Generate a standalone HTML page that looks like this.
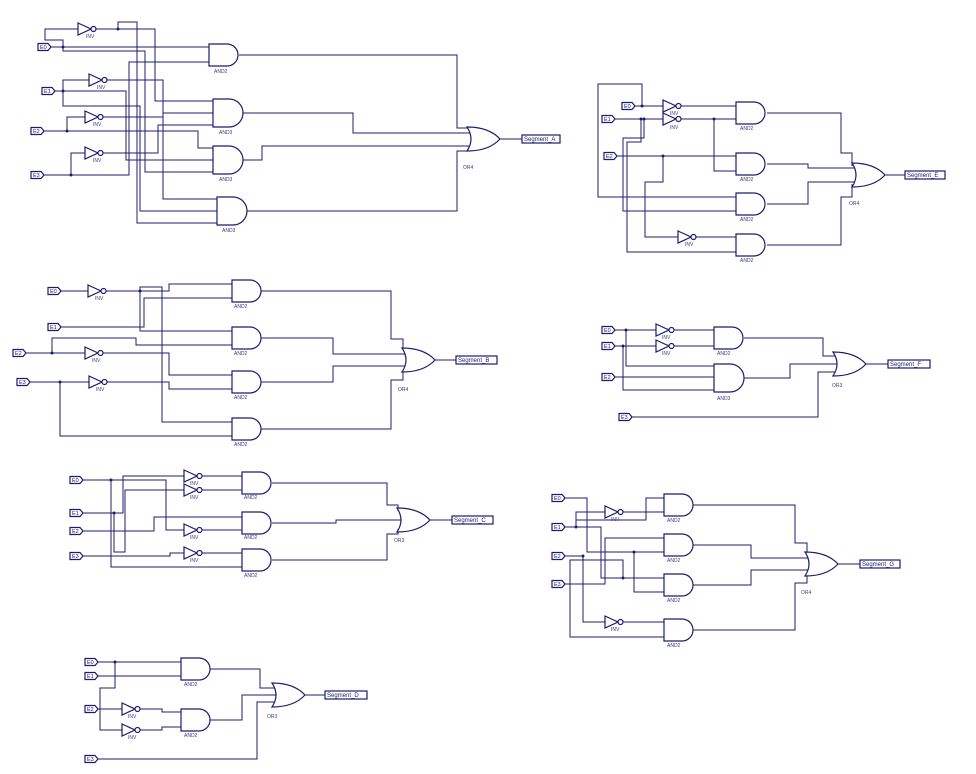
<!DOCTYPE html>
<html><head><meta charset="utf-8"><style>
html,body{margin:0;padding:0;background:#fff;}
svg{display:block;}
.w{fill:none;stroke:#1c1c6e;stroke-width:1;}
.g{fill:#fff;stroke:#1c1c6e;stroke-width:1.2;}
text{font-family:"Liberation Sans",sans-serif;font-size:5px;fill:#3a3a80;}
.p{font-size:5.5px;fill:#1c1c6e;}
.o{font-size:6px;fill:#1c1c6e;}
.d{fill:#1c1c6e;}
</style></head><body>
<svg width="976" height="774" viewBox="0 0 976 774" xmlns="http://www.w3.org/2000/svg">
<defs>
<path id="and2" class="g" d="M0,0 H18 A11,11 0 0 1 18,22 H0 Z"/>
<path id="and3" class="g" d="M0,0 H16 A14,14 0 0 1 16,28 H0 Z"/>
<path id="or" class="g" d="M0,0 Q8,12 0,24 Q22,24 33,12 Q22,0 0,0 Z"/>
<g id="inv"><path class="g" d="M0,-6 L13,0 L0,6 Z"/><circle class="g" cx="15.5" cy="0" r="2.5"/></g>
<path id="port" class="g" d="M0,-3.5 H10 L13,0 L10,3.5 H0 Z"/>
</defs>

<!-- ===== Segment_A ===== -->
<g class="w">
<polyline points="51,47 209,47"/>
<polyline points="63,47 63,40 45,40 45,29 78,29"/>
<polyline points="63,47 63,51 145,51 145,172 213,172"/>
<polyline points="96,29 155,29 155,101 213,101"/>
<polyline points="118,29 118,22 137,22 137,223 217,223"/>
<polyline points="55,91 126,91 126,160 213,160"/>
<polyline points="63,91 63,80 89,80"/>
<polyline points="63,91 63,106 140,106 140,211 217,211"/>
<polyline points="107,80 163,80 163,113 213,113"/>
<polyline points="163,113 163,199 217,199"/>
<polyline points="44,131 198,131 198,148 213,148"/>
<polyline points="67,131 67,117 85,117"/>
<polyline points="103,117 163,117"/>
<polyline points="44,175 129,175 129,62 209,62"/>
<polyline points="71,175 71,153 85,153"/>
<polyline points="103,153 158,153 158,125 213,125"/>
<polyline points="239,55 457,55 457,128 470,128"/>
<polyline points="242,113 353,113 353,133 473,133"/>
<polyline points="242,160 262,160 262,146 473,146"/>
<polyline points="246,211 457,211 457,151 470,151"/>
<polyline points="500,139 522,139"/>
</g>
<circle class="d" cx="63" cy="47" r="1.5"/><circle class="d" cx="118" cy="29" r="1.5"/><circle class="d" cx="63" cy="91" r="1.5"/><circle class="d" cx="67" cy="131" r="1.5"/><circle class="d" cx="71" cy="175" r="1.5"/>
<use href="#port" x="38" y="47"/><text class="p" x="40" y="49">E0</text>
<use href="#port" x="42" y="91"/><text class="p" x="44" y="93">E1</text>
<use href="#port" x="31" y="131"/><text class="p" x="33" y="133">E2</text>
<use href="#port" x="31" y="175"/><text class="p" x="33" y="177">E3</text>
<use href="#inv" x="78" y="29"/><text x="86" y="38">INV</text>
<use href="#inv" x="89" y="80"/><text x="97" y="89">INV</text>
<use href="#inv" x="85" y="117"/><text x="93" y="126">INV</text>
<use href="#inv" x="85" y="153"/><text x="93" y="162">INV</text>
<use href="#and2" x="209" y="44"/><text x="214" y="73">AND2</text>
<use href="#and3" x="213" y="99"/><text x="219" y="134">AND3</text>
<use href="#and3" x="213" y="146"/><text x="219" y="181">AND3</text>
<use href="#and3" x="217" y="197"/><text x="222" y="232">AND3</text>
<use href="#or" x="467" y="127"/><text x="463" y="169">OR4</text>
<rect class="g" x="522" y="135" width="38" height="8"/><text class="o" x="524" y="141">Segment_A</text>

<!-- ===== Segment_E ===== -->
<g class="w">
<polyline points="635,106 663,106"/>
<polyline points="642,106 642,84 598,84 598,197 736,197"/>
<polyline points="681,106 736,106"/>
<polyline points="681,119 736,119"/>
<polyline points="714,119 714,171 736,171"/>
<polyline points="615,119 663,119"/>
<polyline points="644,119 644,138 623,138 623,211 736,211"/>
<polyline points="641,119 641,142 627,142 627,252 736,252"/>
<polyline points="617,156 736,156"/>
<polyline points="663,156 663,182 645,182 645,237 678,237"/>
<polyline points="696,237 736,237"/>
<polyline points="767,113 841,113 841,153 852,153 852,166"/>
<polyline points="767,164 808,164 808,168 857,168"/>
<polyline points="767,204 808,204 808,182 857,182"/>
<polyline points="767,245 841,245 841,197 852,197 852,184"/>
<polyline points="885,175 905,175"/>
</g>
<circle class="d" cx="642" cy="106" r="1.5"/><circle class="d" cx="641" cy="119" r="1.5"/><circle class="d" cx="644" cy="119" r="1.5"/><circle class="d" cx="714" cy="119" r="1.5"/><circle class="d" cx="663" cy="156" r="1.5"/>
<use href="#port" x="622" y="106"/><text class="p" x="624" y="108">E0</text>
<use href="#port" x="602" y="119"/><text class="p" x="604" y="121">E1</text>
<use href="#port" x="604" y="156"/><text class="p" x="606" y="158">E2</text>
<use href="#inv" x="663" y="106"/><text x="670" y="115">INV</text>
<use href="#inv" x="663" y="119"/><text x="670" y="129">INV</text>
<use href="#inv" x="678" y="237"/><text x="685" y="246">INV</text>
<use href="#and2" x="736" y="102"/><text x="740" y="130">AND2</text>
<use href="#and2" x="736" y="153"/><text x="740" y="181">AND2</text>
<use href="#and2" x="736" y="193"/><text x="740" y="221">AND2</text>
<use href="#and2" x="736" y="234"/><text x="740" y="262">AND2</text>
<use href="#or" x="852" y="163"/><text x="849" y="205">OR4</text>
<rect class="g" x="905" y="171" width="40" height="8"/><text class="o" x="907" y="177">Segment_E</text>

<!-- ===== Segment_B ===== -->
<g class="w">
<polyline points="61,291 88,291"/>
<polyline points="106,291 169,291 169,284 232,284"/>
<polyline points="140,291 140,287 162,287 162,422 232,422"/>
<polyline points="140,291 140,331 232,331"/>
<polyline points="61,327 144,327 144,298 232,298"/>
<polyline points="26,353 85,353"/>
<polyline points="52,353 52,338 136,338 136,345 232,345"/>
<polyline points="103,353 169,353 169,375 232,375"/>
<polyline points="30,382 89,382"/>
<polyline points="107,382 169,382 169,389 232,389"/>
<polyline points="60,382 60,436 232,436"/>
<polyline points="261,291 391,291 391,339 403,339 403,350"/>
<polyline points="261,338 333,338 333,354 406,354"/>
<polyline points="261,382 333,382 333,366 406,366"/>
<polyline points="261,429 391,429 391,380 403,380 403,370"/>
<polyline points="435,360 456,360"/>
</g>
<circle class="d" cx="140" cy="291" r="1.5"/><circle class="d" cx="52" cy="353" r="1.5"/><circle class="d" cx="60" cy="382" r="1.5"/>
<use href="#port" x="48" y="291"/><text class="p" x="50" y="293">E0</text>
<use href="#port" x="48" y="327"/><text class="p" x="50" y="329">E1</text>
<use href="#port" x="13" y="353"/><text class="p" x="15" y="355">E2</text>
<use href="#port" x="17" y="382"/><text class="p" x="19" y="384">E3</text>
<use href="#inv" x="88" y="291"/><text x="95" y="300">INV</text>
<use href="#inv" x="85" y="353"/><text x="92" y="362">INV</text>
<use href="#inv" x="89" y="382"/><text x="96" y="391">INV</text>
<use href="#and2" x="232" y="280"/><text x="234" y="308">AND2</text>
<use href="#and2" x="232" y="327"/><text x="234" y="355">AND2</text>
<use href="#and2" x="232" y="371"/><text x="234" y="399">AND2</text>
<use href="#and2" x="232" y="418"/><text x="234" y="446">AND2</text>
<use href="#or" x="402" y="348"/><text x="398" y="391">OR4</text>
<rect class="g" x="456" y="356" width="41" height="8"/><text class="o" x="458" y="362">Segment_B</text>

<!-- ===== Segment_F ===== -->
<g class="w">
<polyline points="615,330 656,330"/>
<polyline points="615,346 656,346"/>
<polyline points="674,330 714,330"/>
<polyline points="674,346 714,346"/>
<polyline points="626,330 626,366 714,366"/>
<polyline points="615,377 714,377"/>
<polyline points="623,346 623,390 714,390"/>
<polyline points="744,338 823,338 823,356 836,356"/>
<polyline points="744,378 790,378 790,364 837,364"/>
<polyline points="632,417 818,417 818,372 836,372"/>
<polyline points="866,364 888,364"/>
</g>
<circle class="d" cx="626" cy="330" r="1.5"/><circle class="d" cx="623" cy="346" r="1.5"/>
<use href="#port" x="602" y="330"/><text class="p" x="604" y="332">E0</text>
<use href="#port" x="602" y="346"/><text class="p" x="604" y="348">E1</text>
<use href="#port" x="602" y="377"/><text class="p" x="604" y="379">E2</text>
<use href="#port" x="619" y="417"/><text class="p" x="621" y="419">E3</text>
<use href="#inv" x="656" y="330"/><text x="662" y="339">INV</text>
<use href="#inv" x="656" y="346"/><text x="662" y="355">INV</text>
<use href="#and2" x="714" y="327"/><text x="717" y="355">AND2</text>
<use href="#and3" x="714" y="364"/><text x="717" y="400">AND3</text>
<use href="#or" x="833" y="352"/><text x="832" y="387">OR3</text>
<rect class="g" x="888" y="360" width="42" height="8"/><text class="o" x="890" y="366">Segment_F</text>

<!-- ===== Segment_C ===== -->
<g class="w">
<polyline points="83,480 166,480 166,530 184,530"/>
<polyline points="111,480 111,567 242,567"/>
<polyline points="83,513 123,513 123,476 184,476"/>
<polyline points="114,513 114,552 125,552 125,490 184,490"/>
<polyline points="83,531 154,531 154,517 242,517"/>
<polyline points="83,556 170,556 170,553 184,553"/>
<polyline points="202,476 242,476"/>
<polyline points="202,490 242,490"/>
<polyline points="202,530 242,530"/>
<polyline points="202,553 242,553"/>
<polyline points="272,483 387,483 387,505 398,505 398,511"/>
<polyline points="272,523 336,523 336,520 403,520"/>
<polyline points="272,560 387,560 387,534 398,534 398,529"/>
<polyline points="430,520 452,520"/>
</g>
<circle class="d" cx="111" cy="480" r="1.5"/><circle class="d" cx="114" cy="513" r="1.5"/>
<use href="#port" x="70" y="480"/><text class="p" x="72" y="482">E0</text>
<use href="#port" x="70" y="513"/><text class="p" x="72" y="515">E1</text>
<use href="#port" x="70" y="531"/><text class="p" x="72" y="533">E2</text>
<use href="#port" x="70" y="556"/><text class="p" x="72" y="558">E3</text>
<use href="#inv" x="184" y="476"/><text x="190" y="485">INV</text>
<use href="#inv" x="184" y="490"/><text x="190" y="499">INV</text>
<use href="#inv" x="184" y="530"/><text x="190" y="539">INV</text>
<use href="#inv" x="184" y="553"/><text x="190" y="562">INV</text>
<use href="#and2" x="242" y="472"/><text x="244" y="499">AND2</text>
<use href="#and2" x="242" y="512"/><text x="244" y="539">AND2</text>
<use href="#and2" x="242" y="549"/><text x="244" y="577">AND2</text>
<use href="#or" x="397" y="508"/><text x="394" y="542">OR3</text>
<rect class="g" x="452" y="516" width="41" height="8"/><text class="o" x="454" y="522">Segment_C</text>

<!-- ===== Segment_G ===== -->
<g class="w">
<polyline points="565,498 587,498 587,552 664,552"/>
<polyline points="634,552 634,592 664,592"/>
<polyline points="565,527 601,527 601,578 664,578"/>
<polyline points="576,527 576,512 605,512"/>
<polyline points="576,520 646,520 646,498 664,498"/>
<polyline points="623,512 664,512"/>
<polyline points="565,556 583,556 583,622 605,622"/>
<polyline points="623,622 664,622"/>
<polyline points="565,584 605,584 605,538 664,538"/>
<polyline points="570,584 570,560 623,560 623,578"/>
<polyline points="570,584 570,637 664,637"/>
<polyline points="693,505 795,505 795,543 807,543 807,555"/>
<polyline points="693,545 751,545 751,558 810,558"/>
<polyline points="693,585 751,585 751,570 810,570"/>
<polyline points="693,630 795,630 795,583 807,583 807,573"/>
<polyline points="838,564 860,564"/>
</g>
<circle class="d" cx="576" cy="527" r="1.5"/><circle class="d" cx="583" cy="556" r="1.5"/><circle class="d" cx="634" cy="552" r="1.5"/><circle class="d" cx="623" cy="578" r="1.5"/>
<use href="#port" x="552" y="498"/><text class="p" x="554" y="500">E0</text>
<use href="#port" x="552" y="527"/><text class="p" x="554" y="529">E1</text>
<use href="#port" x="552" y="556"/><text class="p" x="554" y="558">E2</text>
<use href="#port" x="552" y="584"/><text class="p" x="554" y="586">E3</text>
<use href="#inv" x="605" y="512"/><text x="611" y="521">INV</text>
<use href="#inv" x="605" y="622"/><text x="611" y="631">INV</text>
<use href="#and2" x="664" y="494"/><text x="667" y="522">AND2</text>
<use href="#and2" x="664" y="534"/><text x="667" y="562">AND2</text>
<use href="#and2" x="664" y="574"/><text x="667" y="602">AND2</text>
<use href="#and2" x="664" y="619"/><text x="667" y="647">AND2</text>
<use href="#or" x="805" y="552"/><text x="801" y="594">OR4</text>
<rect class="g" x="860" y="560" width="40" height="8"/><text class="o" x="862" y="566">Segment_G</text>

<!-- ===== Segment_D ===== -->
<g class="w">
<polyline points="98,662 181,662"/>
<polyline points="98,676 181,676"/>
<polyline points="115,662 115,688 100,688 100,730 122,730"/>
<polyline points="98,709 122,709"/>
<polyline points="140,709 162,709 162,712 181,712"/>
<polyline points="140,730 162,730 162,727 181,727"/>
<polyline points="210,669 260,669 260,688 276,688"/>
<polyline points="210,720 242,720 242,695 278,695"/>
<polyline points="98,759 257,759 257,702 276,702"/>
<polyline points="305,695 325,695"/>
</g>
<circle class="d" cx="115" cy="662" r="1.5"/>
<use href="#port" x="85" y="662"/><text class="p" x="87" y="664">E0</text>
<use href="#port" x="85" y="676"/><text class="p" x="87" y="678">E1</text>
<use href="#port" x="85" y="709"/><text class="p" x="87" y="711">E2</text>
<use href="#port" x="85" y="759"/><text class="p" x="87" y="761">E3</text>
<use href="#inv" x="122" y="709"/><text x="128" y="718">INV</text>
<use href="#inv" x="122" y="730"/><text x="128" y="739">INV</text>
<use href="#and2" x="181" y="658"/><text x="184" y="686">AND2</text>
<use href="#and2" x="181" y="709"/><text x="184" y="737">AND2</text>
<use href="#or" x="272" y="683"/><text x="267" y="718">OR3</text>
<rect class="g" x="325" y="691" width="42" height="8"/><text class="o" x="327" y="697">Segment_D</text>
</svg>
</body></html>
